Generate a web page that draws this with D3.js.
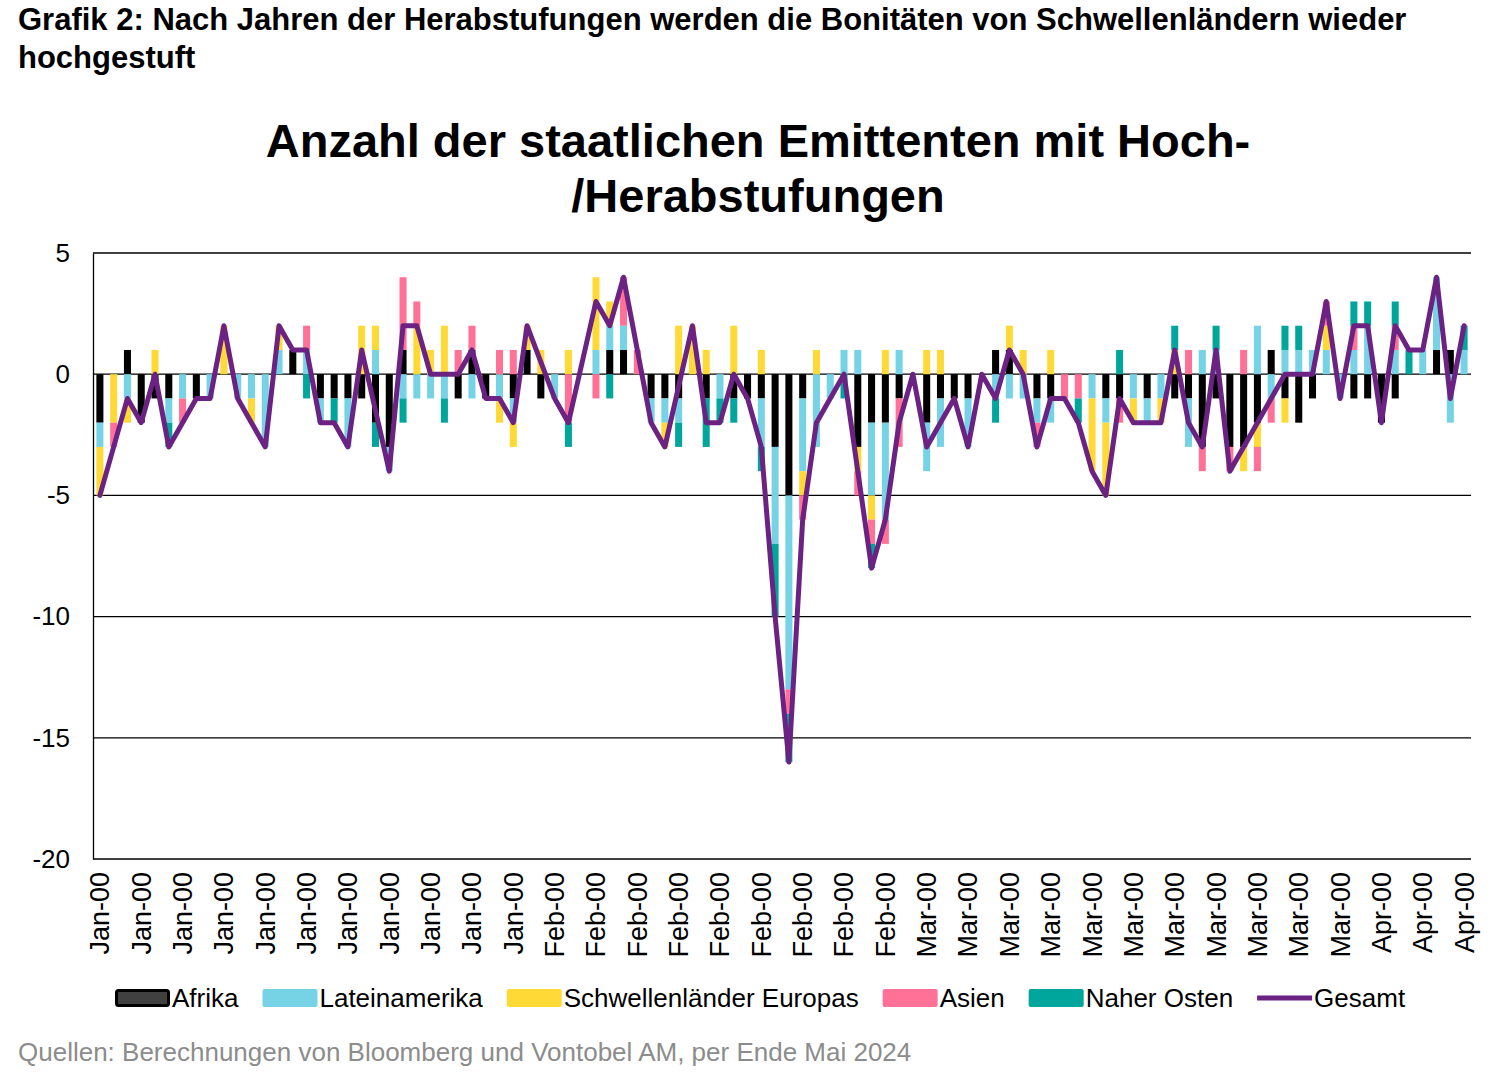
<!DOCTYPE html>
<html>
<head>
<meta charset="utf-8">
<script src="https://cdn.jsdelivr.net/npm/d3@7"></script>
<style>
  body { margin: 0; background: #fff; }
  svg { font-family: "Liberation Sans", Arial, sans-serif; }
</style>
</head>
<body>
<svg id="chart" width="1500" height="1083"></svg>
<script>
// Werte je Monat (100 Kategorien), gelesen aus der Grafik
const labels = [
  "Jan-00","Jan-00","Jan-00","Jan-00","Jan-00","Jan-00","Jan-00","Jan-00","Jan-00","Jan-00","Jan-00",
  "Feb-00","Feb-00","Feb-00","Feb-00","Feb-00","Feb-00","Feb-00","Feb-00","Feb-00",
  "Mar-00","Mar-00","Mar-00","Mar-00","Mar-00","Mar-00","Mar-00","Mar-00","Mar-00","Mar-00","Mar-00",
  "Apr-00","Apr-00","Apr-00"
];
const afrika = [
  -2,0,1,-2,-1,-1,0,-1,0,0, 0,0,0,0,1,0,-1,-1,-1,-1,
  -2,-3,1,0,0,0,-1,1,-1,0, -1,1,-1,0,0,0,0,1,1,0,
  -1,-1,-1,0,-1,0,-1,-1,-1,-3, -5,-1,0,0,0,-3,-2,-2,-1,0,
  -2,-1,-1,-1,0,1,1,0,-1,-1, 0,0,0,-1,-1,0,-1,0,-1,-1,
  -3,-1,-3,-3,-2,1,-1,-2,-1,0, 0,-1,-1,-2,-1,0,0,1,1,0
];
const lateinamerika = [
  -1,0,-1,0,0,-1,-1,0,-1,0, -1,-1,-3,1,0,1,-1,0,-2,0,
  1,-1,-1,-1,-1,-1,0,-1,0,-1, -1,0,0,-1,0,0,1,1,1,0,
  -1,-1,-1,0,0,-1,0,0,-2,-4, -8,-3,-3,-1,1,1,-3,-4,1,0,
  -2,-2,0,-2,0,-1,-1,-1,-1,-1, 0,0,-1,-1,0,-1,-1,-1,0,-2,
  1,1,0,0,2,-1,1,1,1,1, -1,1,2,0,1,0,1,3,-2,1
];
const europa = [
  -2,-2,-1,0,1,0,0,0,0,2, 0,-1,0,1,0,0,0,0,0,2,
  1,0,0,2,1,2,0,0,0,-1, -1,1,1,0,1,0,3,1,0,0,
  0,-1,2,2,1,0,2,0,1,0, 0,-1,1,0,0,-1,-1,1,0,0,
  1,1,0,0,0,0,1,1,0,1, 0,0,-3,-3,0,-1,0,-1,1,0,
  0,0,0,-1,-1,0,-1,0,0,1, 0,0,0,0,0,0,0,0,0,0
];
const asien = [
  0,-1,0,0,0,0,-1,0,0,0, 0,0,0,0,0,1,0,0,0,0,
  0,0,3,1,0,0,1,1,0,1, 1,0,0,0,-2,0,-1,0,2,1,
  0,0,0,0,0,0,0,0,0,0, -1,-1,0,0,0,-1,-1,-1,-2,0,
  0,0,0,0,0,0,0,0,-1,0, -1,-1,0,0,-1,0,0,0,0,1,
  -1,0,-1,1,-1,-1,0,0,0,1, 0,1,0,0,1,0,0,0,0,0
];
const naherOsten = [
  0,0,0,0,0,-1,0,0,0,0, 0,0,0,0,0,-1,0,-1,0,0,
  -1,0,-1,0,0,-1,0,0,0,0, 0,0,0,0,-1,0,0,-1,0,0,
  0,0,-1,0,-2,-1,-1,0,-1,-3, -2,0,0,0,-1,0,-1,0,0,0,
  0,0,0,0,0,-1,0,0,0,0, 0,-1,0,0,1,0,0,0,1,0,
  0,1,0,0,0,0,1,1,0,0, 0,1,1,0,1,1,0,0,0,1
];
// Gesamt-Linie; null = Punkt ohne Wert, die Linie verbindet die Nachbarn
const gesamt = [
  -5,-3,-1,-2,0,-3,-2,-1,-1,2, -1,-2,-3,2,1,1,-2,-2,-3,1,
  null,-4,2,2,0,0,0,1,-1,-1, -2,2,null,-1,-2,null,3,2,4,1,
  -2,-3,null,2,-2,-2,0,-1,-3,-10, -16,-6,-2,-1,0,-4,-8,-6,-2,0,
  -3,-2,-1,-3,0,-1,1,0,-3,-1, -1,-2,-4,-5,-1,-2,-2,-2,1,-2,
  -3,1,-4,-3,-2,-1,0,0,0,3, -1,2,2,-2,2,1,1,4,-1,2
];
const yTicks = [5, 0, -5, -10, -15, -20];

const series = [
  { key: "Afrika", values: afrika, color: "#000000" },
  { key: "Lateinamerika", values: lateinamerika, color: "#76d3e6" },
  { key: "Schwellenländer Europas", values: europa, color: "#ffd935" },
  { key: "Asien", values: asien, color: "#ff7197" },
  { key: "Naher Osten", values: naherOsten, color: "#00a59b" }
];
const lineColor = "#6c2283";

const svg = d3.select("#chart");
const margin = { top: 253, right: 29, bottom: 224, left: 93 };
const W = 1500, H = 1083;
const plotW = W - margin.left - margin.right;
const plotH = H - margin.top - margin.bottom;

// Kopfzeile
const head = svg.append("g").attr("font-weight", "bold").attr("font-size", "31px").attr("fill", "#000");
head.append("text").attr("x", 18).attr("y", 30)
  .text("Grafik 2: Nach Jahren der Herabstufungen werden die Bonitäten von Schwellenländern wieder");
head.append("text").attr("x", 18).attr("y", 68).text("hochgestuft");

// Titel
const title = svg.append("g").attr("font-weight", "bold").attr("font-size", "47px")
  .attr("text-anchor", "middle").attr("fill", "#000");
title.append("text").attr("x", 758).attr("y", 157).text("Anzahl der staatlichen Emittenten mit Hoch-");
title.append("text").attr("x", 758).attr("y", 212).text("/Herabstufungen");

const idx = d3.range(gesamt.length);
const x = d3.scaleBand().domain(idx).range([0, plotW]).paddingInner(0.49).paddingOuter(0.245);
const y = d3.scaleLinear().domain([-20, 5]).range([plotH, 0]);

const g = svg.append("g").attr("transform", `translate(${margin.left},${margin.top})`);

// Gitterlinien
g.selectAll(".grid").data(yTicks).enter().append("line")
  .attr("x1", 0).attr("x2", plotW)
  .attr("y1", d => y(d)).attr("y2", d => y(d))
  .attr("stroke", "#000").attr("stroke-width", 1.3);

// Y-Achse
const yAxis = g.append("g")
  .call(d3.axisLeft(y).tickValues(yTicks).tickSize(0).tickPadding(23).tickFormat(d => String(d)));
yAxis.select(".domain").attr("stroke", "#000").attr("stroke-width", 1.3);
yAxis.selectAll("text").attr("font-size", "26px").attr("fill", "#000")
  .attr("font-family", "'Liberation Sans', Arial, sans-serif");

// Gestapelte Balken
const rows = idx.map(i => {
  const r = { i };
  series.forEach(s => r[s.key] = s.values[i]);
  return r;
});
const stack = d3.stack().keys(series.map(s => s.key)).offset(d3.stackOffsetDiverging);
const layers = stack(rows);

layers.forEach((layer, li) => {
  g.append("g").attr("fill", series[li].color)
    .selectAll("rect").data(layer.filter(d => d[1] !== d[0])).enter().append("rect")
    .attr("x", d => x(d.data.i))
    .attr("width", x.bandwidth())
    .attr("y", d => y(Math.max(d[0], d[1])))
    .attr("height", d => Math.abs(y(d[0]) - y(d[1])));
});

// Gesamt-Linie
const pts = idx.filter(i => gesamt[i] !== null);
const line = d3.line()
  .x(i => x(i) + x.bandwidth() / 2)
  .y(i => y(gesamt[i]));
g.append("path").datum(pts)
  .attr("d", line)
  .attr("fill", "none")
  .attr("stroke", lineColor)
  .attr("stroke-width", 5)
  .attr("stroke-linejoin", "round")
  .attr("stroke-linecap", "round");

// X-Achse mit jedem dritten Label
const tickIdx = idx.filter(i => i % 3 === 0);
const xAxis = g.append("g").attr("transform", `translate(0,${plotH})`)
  .call(d3.axisBottom(x).tickValues(tickIdx).tickSize(0).tickFormat(i => labels[i / 3]));
xAxis.select(".domain").remove();
xAxis.selectAll("text")
  .attr("font-size", "27px").attr("fill", "#000")
  .attr("font-family", "'Liberation Sans', Arial, sans-serif")
  .attr("text-anchor", "end")
  .attr("transform", "rotate(-90)")
  .attr("x", -13).attr("y", 0).attr("dy", "0.35em");

// Legende
const legend = svg.append("g").attr("transform", "translate(115, 998)");
const legendItems = series.map(s => ({ key: s.key, color: s.color, type: "bar" }))
  .concat([{ key: "Gesamt", color: lineColor, type: "line" }]);
let lx = 0;
legendItems.forEach((d, i) => {
  const item = legend.append("g").attr("transform", `translate(${lx},0)`);
  if (d.type === "line") {
    item.append("line").attr("x1", 0).attr("x2", 55).attr("y1", 0).attr("y2", 0)
      .attr("stroke", d.color).attr("stroke-width", 5);
  } else if (i === 0) {
    item.append("rect").attr("x", 1.5).attr("y", -7.5).attr("width", 52).attr("height", 15)
      .attr("rx", 2).attr("fill", "#404040").attr("stroke", "#000").attr("stroke-width", 3);
  } else {
    item.append("rect").attr("x", 0).attr("y", -9).attr("width", 55).attr("height", 18)
      .attr("rx", 2).attr("fill", d.color);
  }
  const t = item.append("text").attr("x", 57).attr("y", 0).attr("dy", "0.35em")
    .attr("font-size", "26px").attr("fill", "#000").text(d.key);
  lx += 57 + t.node().getComputedTextLength() + 24;
});

// Quelle
svg.append("text").attr("x", 18).attr("y", 1061)
  .attr("font-size", "26px").attr("fill", "#8c8c8c")
  .text("Quellen: Berechnungen von Bloomberg und Vontobel AM, per Ende Mai 2024");
</script>
</body>
</html>
